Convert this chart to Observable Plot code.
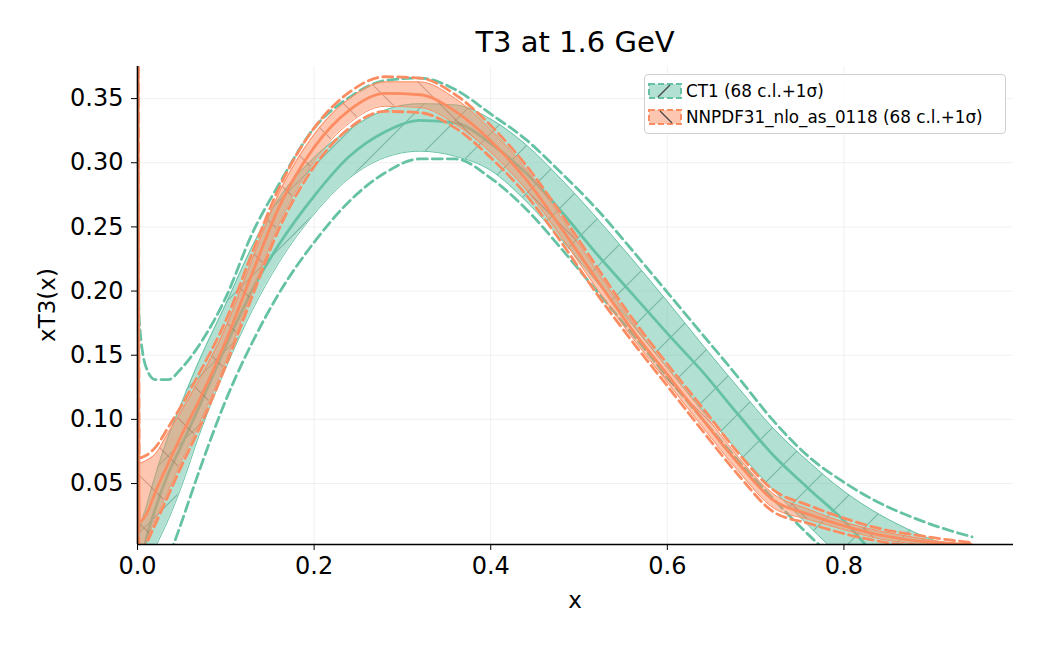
<!DOCTYPE html>
<html><head><meta charset="utf-8">
<script src="https://cdn.jsdelivr.net/npm/d3@7"></script>
<script src="https://cdn.jsdelivr.net/npm/@observablehq/plot@0.6"></script>
<style>
body{margin:0;background:#fff;font-family:"DejaVu Sans",sans-serif;}
#wrap{position:relative;width:1050px;height:645px;overflow:hidden;}
#title{position:absolute;left:137px;width:876px;top:24px;text-align:center;font-size:29px;line-height:36px;}
#xlabel{position:absolute;left:137px;width:876px;top:586px;text-align:center;font-size:23px;line-height:28px;}
#ylabel{position:absolute;left:47px;top:305px;font-size:23px;line-height:28px;transform:translate(-50%,-50%) rotate(-90deg);white-space:nowrap;}
#legend{position:absolute;left:644px;top:74px;width:362px;height:60px;box-sizing:border-box;border:1px solid #d0d0d0;border-radius:4px;background:rgba(255,255,255,0.85);font-size:16.8px;}
.row{position:absolute;left:3px;height:26px;display:flex;align-items:center;white-space:nowrap;}
.row svg{margin-right:2px;}
</style></head><body>
<div id="wrap">
<div id="chart"></div>
<div id="title">T3 at 1.6 GeV</div>
<div id="xlabel">x</div>
<div id="ylabel">xT3(x)</div>
<div id="legend"></div>
</div>
<script>
// x grid shared by all curves
const xGrid = [0.0003, 0.002, 0.01, 0.02, 0.035, 0.05, 0.07, 0.1, 0.13, 0.16, 0.2, 0.24, 0.28, 0.32, 0.36, 0.4, 0.44, 0.48, 0.52, 0.56, 0.6, 0.64, 0.68, 0.72, 0.76, 0.8, 0.84, 0.88, 0.92, 0.945];
// CT1
const ct1Central = [null, -0.02, 0.007, 0.03, 0.058, 0.08, 0.11, 0.157, 0.201, 0.236, 0.274, 0.305, 0.324, 0.333, 0.331, 0.315, 0.292, 0.262, 0.229, 0.198, 0.167, 0.137, 0.104, 0.072, 0.046, 0.021, -0.01, -0.04, -0.07, -0.09];
const ct1High = [-0.01, 0.01, 0.032, 0.056, 0.087, 0.113, 0.146, 0.19, 0.235, 0.272, 0.304, 0.326, 0.341, 0.346, 0.345, 0.334, 0.314, 0.287, 0.257, 0.225, 0.192, 0.158, 0.125, 0.093, 0.067, 0.044, 0.026, 0.012, 0.001, -0.005];
const ct1Low = [-0.05, -0.03, -0.015, 0.0, 0.022, 0.048, 0.088, 0.14, 0.185, 0.222, 0.26, 0.288, 0.304, 0.309, 0.305, 0.294, 0.27, 0.24, 0.207, 0.174, 0.14, 0.107, 0.075, 0.045, 0.017, -0.01, -0.04, -0.07, -0.1, -0.12];
const ct1DashHigh = [0.24, 0.177, 0.14, 0.131, 0.131, 0.14, 0.158, 0.195, 0.245, 0.283, 0.327, 0.351, 0.364, 0.366, 0.357, 0.338, 0.318, 0.292, 0.264, 0.232, 0.199, 0.166, 0.133, 0.099, 0.071, 0.051, 0.035, 0.023, 0.0134, 0.0085];
const ct1DashLow = [null, null, null, -0.05, -0.01, 0.02, 0.06, 0.115, 0.16, 0.198, 0.238, 0.27, 0.292, 0.303, 0.303, 0.288, 0.264, 0.233, 0.2, 0.167, 0.133, 0.1, 0.068, 0.038, 0.01, -0.015, -0.04, null, null, null];
// NNPDF31_nlo_as_0118
const nnCentral = [0.6, 0.02, 0.026, 0.043, 0.066, 0.088, 0.115, 0.161, 0.214, 0.265, 0.312, 0.341, 0.354, 0.353, 0.34, 0.317, 0.287, 0.249, 0.209, 0.17, 0.135, 0.1, 0.066, 0.037, 0.026, 0.017, 0.01, 0.0055, 0.003, 0.002];
const nnHigh = [0.9, 0.066, 0.068, 0.073, 0.09, 0.107, 0.131, 0.172, 0.225, 0.276, 0.322, 0.35, 0.363, 0.363, 0.35, 0.326, 0.295, 0.257, 0.216, 0.176, 0.14, 0.106, 0.071, 0.042, 0.03, 0.02, 0.013, 0.008, 0.004, 0.003];
const nnLow = [0.3, -0.005, 0.006, 0.022, 0.045, 0.068, 0.097, 0.146, 0.2, 0.252, 0.301, 0.331, 0.344, 0.343, 0.33, 0.308, 0.279, 0.242, 0.202, 0.164, 0.129, 0.094, 0.06, 0.031, 0.022, 0.014, 0.007, 0.003, 0.001, 0.0];
const nnDashHigh = [0.9, 0.07, 0.072, 0.078, 0.094, 0.111, 0.136, 0.177, 0.23, 0.28, 0.327, 0.355, 0.367, 0.366, 0.353, 0.329, 0.298, 0.26, 0.219, 0.179, 0.143, 0.109, 0.074, 0.045, 0.033, 0.023, 0.015, 0.01, 0.006, 0.004];
const nnDashLow = [0.3, -0.01, 0.003, 0.018, 0.041, 0.064, 0.093, 0.142, 0.196, 0.248, 0.297, 0.327, 0.34, 0.339, 0.327, 0.304, 0.275, 0.238, 0.198, 0.161, 0.126, 0.091, 0.057, 0.028, 0.019, 0.011, 0.005, 0.001, -0.001, -0.002];

const xTicks = [0, 0.2, 0.4, 0.6, 0.8];
const yTicks = [0.05, 0.10, 0.15, 0.20, 0.25, 0.30, 0.35];
const xDomain = [0, 0.992];
const yDomain = [0.0025, 0.375];
const setNames = ["CT1 (68 c.l.+1σ)", "NNPDF31_nlo_as_0118 (68 c.l.+1σ)"];
const teal = "#66c2a5", orange = "#fc8d62";

const rows = xGrid.map((x, i) => ({
  x,
  ctC: ct1Central[i], ctH: ct1High[i], ctL: ct1Low[i], ctDH: ct1DashHigh[i], ctDL: ct1DashLow[i],
  nnC: nnCentral[i], nnH: nnHigh[i], nnL: nnLow[i], nnDH: nnDashHigh[i], nnDL: nnDashLow[i]
}));

const curve = "monotone-x";
function setMarks(c, col, hatch) {
  const k = (s) => c + s;
  return [
    Plot.areaY(rows, {x: "x", y1: k("L"), y2: k("H"), fill: col, fillOpacity: 0.5, curve, clip: true}),
    Plot.areaY(rows, {x: "x", y1: k("L"), y2: k("H"), fill: `url(#${hatch})`, curve, clip: true}),
    Plot.line(rows, {x: "x", y: k("H"), stroke: col, strokeWidth: 1, curve, clip: true}),
    Plot.line(rows, {x: "x", y: k("L"), stroke: col, strokeWidth: 1, curve, clip: true}),
    Plot.line(rows, {x: "x", y: k("C"), stroke: col, strokeWidth: 2.8, curve, clip: true}),
    Plot.line(rows, {x: "x", y: k("DH"), stroke: col, strokeWidth: 2.8, strokeDasharray: "10,5", curve, clip: true}),
    Plot.line(rows, {x: "x", y: k("DL"), stroke: col, strokeWidth: 2.8, strokeDasharray: "10,5", curve, clip: true})
  ];
}

const chart = Plot.plot({
  width: 1050, height: 645,
  marginLeft: 137, marginRight: 37, marginTop: 66, marginBottom: 101,
  style: {fontFamily: "DejaVu Sans, sans-serif", fontSize: "24px", color: "#000", background: "white"},
  x: {domain: xDomain, label: null},
  y: {domain: yDomain, label: null},
  marks: [
    Plot.gridX(xTicks, {stroke: "#000", strokeOpacity: 0.06}),
    Plot.gridY(yTicks, {stroke: "#000", strokeOpacity: 0.06}),
    ...setMarks("ct", teal, "hatchCT"),
    ...setMarks("nn", orange, "hatchNN"),
    Plot.ruleX([xDomain[0]], {stroke: "#000", strokeWidth: 1.6}),
    Plot.ruleY([yDomain[0]], {stroke: "#000", strokeWidth: 1.6}),
    Plot.axisX(xTicks, {tickFormat: d3.format(".1f"), tickSize: 6, tickPadding: 6, fontSize: 24, label: null}),
    Plot.axisY(yTicks, {tickFormat: d3.format(".2f"), tickSize: 6, tickPadding: 8, fontSize: 24, label: null})
  ]
});
document.getElementById("chart").appendChild(chart);

// hatch patterns
const svg = d3.select(chart);
const defs = svg.insert("defs", ":first-child");
function hatchPattern(id, color, dir, size, op) {
  const p = defs.append("pattern").attr("id", id).attr("patternUnits", "userSpaceOnUse").attr("width", size).attr("height", size);
  const d = dir === "/"
    ? `M0,${size} L${size},0 M${-size/2},${size/2} L${size/2},${-size/2} M${size/2},${size*1.5} L${size*1.5},${size/2}`
    : `M0,0 L${size},${size} M${-size/2},${size/2} L${size/2},${size*1.5} M${size/2},${-size/2} L${size*1.5},${size/2}`;
  p.append("path").attr("d", d).attr("stroke", color).attr("stroke-width", 1.2).attr("stroke-opacity", op).attr("fill", "none");
}
hatchPattern("hatchCT", "#3f8f76", "/", 48, 0.5);
hatchPattern("hatchNN", "#9c5a40", "\\", 48, 0.4);

// legend
const legend = d3.select("#legend");
[[teal, "/", setNames[0]], [orange, "\\", setNames[1]]].forEach(([col, dir, name], i) => {
  const row = legend.append("div").attr("class", "row").style("top", (i === 0 ? 3 : 29) + "px");
  const s = row.append("svg").attr("width", 34).attr("height", 16);
  s.append("rect").attr("x", 1).attr("y", 1).attr("width", 32).attr("height", 14)
    .attr("fill", col).attr("fill-opacity", 0.5).attr("stroke", col).attr("stroke-width", 2).attr("stroke-dasharray", "6,3");
  s.append("path").attr("d", dir === "/" ? "M10,14 L22,2" : "M12,2 L24,14").attr("stroke", "#444").attr("stroke-width", 1.3);
  row.append("span").style("margin-left", "2px").text(name);
});
</script>
</body></html>
